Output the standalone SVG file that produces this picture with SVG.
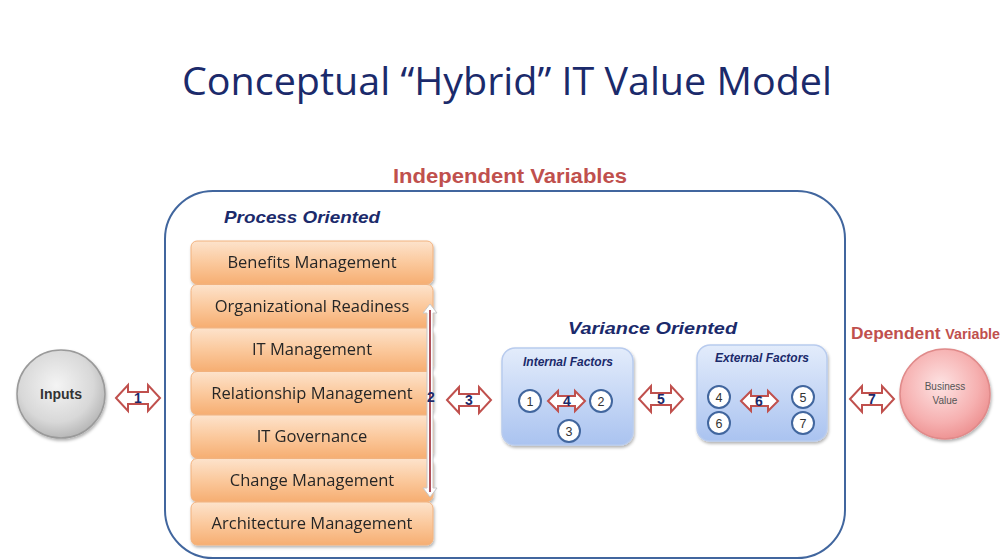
<svg xmlns="http://www.w3.org/2000/svg" width="1002" height="560" viewBox="0 0 1002 560">
<defs>
<linearGradient id="gOrange" x1="0" y1="0" x2="0" y2="1">
<stop offset="0" stop-color="#fde3cc"/><stop offset="0.5" stop-color="#fbc99d"/><stop offset="1" stop-color="#f6ae72"/>
</linearGradient>
<linearGradient id="gBlue" x1="0" y1="0" x2="0" y2="1">
<stop offset="0" stop-color="#e3ecfb"/><stop offset="1" stop-color="#aac3f0"/>
</linearGradient>
<radialGradient id="gGray" cx="0.45" cy="0.4" r="0.6">
<stop offset="0" stop-color="#f4f4f4"/><stop offset="0.7" stop-color="#d8d8d8"/><stop offset="1" stop-color="#b8b8b8"/>
</radialGradient>
<radialGradient id="gPink" cx="0.45" cy="0.4" r="0.6">
<stop offset="0" stop-color="#fde3e3"/><stop offset="0.7" stop-color="#f6b0b0"/><stop offset="1" stop-color="#ee9494"/>
</radialGradient>
<filter id="sh" x="-10%" y="-10%" width="130%" height="140%">
<feDropShadow dx="1" dy="2" stdDeviation="1.5" flood-color="#000" flood-opacity="0.3"/>
</filter>
<path id="dbl" d="M0,0 L12,-13 L12,-6 L32,-6 L32,-13 L44,0 L32,13 L32,6 L12,6 L12,13 Z"/>
<path id="dbls" d="M0,0 L10,-10 L10,-5 L27,-5 L27,-10 L37,0 L27,10 L27,5 L10,5 L10,10 Z"/>
</defs>
<style>
text{font-family:"Liberation Sans",Arial,sans-serif}
.title{font-family:"Open Sans","Liberation Sans",sans-serif;font-size:38px;fill:#1b2a6b}
.red{fill:#c0504d;font-weight:bold}
.sec{fill:#1b2a6b;font-weight:bold;font-style:italic}
.box rect{fill:url(#gOrange);stroke:#f2b27e;stroke-width:1}
.box text{font-family:"Open Sans","Liberation Sans",sans-serif;font-size:16.5px;fill:#262626;text-anchor:middle}
.fac{fill:url(#gBlue);stroke:#b8cbee;stroke-width:1.5}
.ftitle{font-size:12px;fill:#1b2a6b;font-weight:bold;font-style:italic;text-anchor:middle}
.num circle{fill:#fff;stroke:#41669e;stroke-width:2}
.num text{font-size:12.5px;fill:#333;text-anchor:middle}
.arr{fill:#fff;stroke:#c0504d;stroke-width:2}
.albl{font-size:14px;fill:#1b2a6b;font-weight:bold;text-anchor:middle}
</style>
<rect width="1002" height="560" fill="#fff"/>
<text class="title" x="507" y="95" text-anchor="middle" textLength="650" lengthAdjust="spacingAndGlyphs">Conceptual “Hybrid” IT Value Model</text>
<text class="red" x="510" y="183" font-size="20" text-anchor="middle" textLength="234" lengthAdjust="spacingAndGlyphs">Independent Variables</text>
<g id="container">
<rect x="165" y="191" width="680" height="367" rx="48" ry="48" fill="none" stroke="#41669e" stroke-width="2"/>
</g>
<text class="sec" x="224" y="223" font-size="17" textLength="156" lengthAdjust="spacingAndGlyphs">Process Oriented</text>
<text class="sec" x="568" y="334" font-size="17" textLength="169" lengthAdjust="spacingAndGlyphs">Variance Oriented</text>
<text class="red" x="851" y="339" font-size="17" textLength="149" lengthAdjust="spacingAndGlyphs">Dependent <tspan font-size="14">Variable</tspan></text>

<g id="process" class="box" filter="url(#sh)">
<g id="n-benefits"><rect x="191" y="241" width="242" height="43" rx="6"/><text x="312" y="268">Benefits Management</text></g>
<g id="n-orgready"><rect x="191" y="284.5" width="242" height="43" rx="6"/><text x="312" y="311.5">Organizational Readiness</text></g>
<g id="n-itmgmt"><rect x="191" y="328" width="242" height="43" rx="6"/><text x="312" y="355">IT Management</text></g>
<g id="n-relmgmt"><rect x="191" y="371.5" width="242" height="43" rx="6"/><text x="312" y="398.5">Relationship Management</text></g>
<g id="n-itgov"><rect x="191" y="415" width="242" height="43" rx="6"/><text x="312" y="442">IT Governance</text></g>
<g id="n-change"><rect x="191" y="458.5" width="242" height="43" rx="6"/><text x="312" y="485.5">Change Management</text></g>
<g id="n-arch"><rect x="191" y="502" width="242" height="43" rx="6"/><text x="312" y="529">Architecture Management</text></g>
</g>

<g id="n-inputs">
<circle cx="61" cy="394" r="44" fill="url(#gGray)" stroke="#9a9a9a" stroke-width="1.5" filter="url(#sh)"/>
<text x="61" y="399" font-size="14" font-weight="bold" fill="#333" text-anchor="middle">Inputs</text>
</g>
<g id="n-business">
<circle cx="945" cy="394" r="45" fill="url(#gPink)" stroke="#e08a8a" stroke-width="1.5" filter="url(#sh)"/>
<text x="945" y="390" font-size="10" fill="#555" text-anchor="middle">Business</text>
<text x="945" y="404" font-size="10" fill="#555" text-anchor="middle">Value</text>
</g>

<g id="n-internal">
<rect class="fac" x="502" y="348" width="131" height="97" rx="13" filter="url(#sh)"/>
<text class="ftitle" x="568" y="366">Internal Factors</text>
<g class="num">
<circle cx="530" cy="401" r="11"/><text x="530" y="405.5">1</text>
<circle cx="601" cy="401" r="11"/><text x="601" y="405.5">2</text>
<circle cx="569" cy="431" r="11"/><text x="569" y="435.5">3</text>
</g>
</g>
<g id="n-external">
<rect class="fac" x="697" y="345" width="130" height="96" rx="13" filter="url(#sh)"/>
<text class="ftitle" x="762" y="362">External Factors</text>
<g class="num">
<circle cx="719" cy="397" r="11"/><text x="719" y="401.5">4</text>
<circle cx="803" cy="397" r="11"/><text x="803" y="401.5">5</text>
<circle cx="719" cy="423" r="11"/><text x="719" y="427.5">6</text>
<circle cx="803" cy="423" r="11"/><text x="803" y="427.5">7</text>
</g>
</g>

<g id="connectors">
<use href="#dbl" class="arr" x="116" y="398"/><text class="albl" x="138" y="403" font-size="12">1</text>
<g id="c2">
<path d="M430,304 L423,313 L427,313 L427,488 L423,488 L430,497 L437,488 L433,488 L433,313 L437,313 Z" fill="#fff" stroke="#c8c8c8" stroke-width="1"/>
<line x1="430" y1="310" x2="430" y2="492" stroke="#b0505a" stroke-width="2"/>
<text class="albl" x="431" y="402">2</text>
</g>
<use href="#dbl" class="arr" x="447" y="400"/><text class="albl" x="469" y="405">3</text>
<use href="#dbls" class="arr" x="548" y="401"/><text class="albl" x="567" y="406">4</text>
<use href="#dbl" class="arr" x="639" y="399"/><text class="albl" x="661" y="404">5</text>
<use href="#dbls" class="arr" x="741" y="401"/><text class="albl" x="759" y="406">6</text>
<use href="#dbl" class="arr" x="850" y="399"/><text class="albl" x="872" y="404">7</text>
</g>
</svg>
